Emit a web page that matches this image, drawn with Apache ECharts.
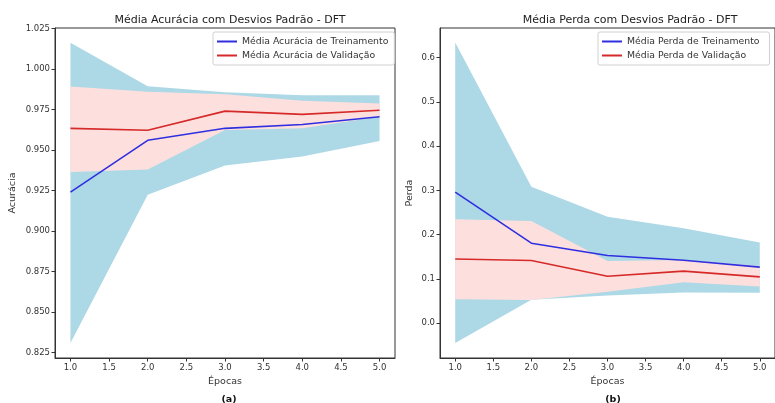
<!DOCTYPE html>
<html><head><meta charset="utf-8">
<script src="https://cdn.jsdelivr.net/npm/echarts@6/dist/echarts.min.js"></script>
<style>html,body{margin:0;padding:0;background:#fff}#c{width:775px;height:403px}</style>
</head><body><div id="c"></div>
<script>
var epochs = [1, 2, 3, 4, 5];
var xTicks = [1.0, 1.5, 2.0, 2.5, 3.0, 3.5, 4.0, 4.5, 5.0];

// Accuracy (a)
var accTrainMean = [0.9240, 0.9560, 0.9634, 0.9658, 0.9705];
var accTrainUpper = [1.0162, 0.9894, 0.9857, 0.9838, 0.9838];
var accTrainLower = [0.8310, 0.9224, 0.9404, 0.9460, 0.9556];
var accValMean = [0.9634, 0.9622, 0.9740, 0.9720, 0.9746];
var accValUpper = [0.9892, 0.9859, 0.9845, 0.9804, 0.9787];
var accValLower = [0.9364, 0.9380, 0.9623, 0.9634, 0.9705];
var accTicks = [0.825, 0.850, 0.875, 0.900, 0.925, 0.950, 0.975, 1.000, 1.025];

// Loss (b)
var lossTrainMean = [0.2960, 0.1806, 0.1526, 0.1420, 0.1264];
var lossTrainUpper = [0.6340, 0.3080, 0.2406, 0.2144, 0.1820];
var lossTrainLower = [-0.0450, 0.0526, 0.0623, 0.0690, 0.0684];
var lossValMean = [0.1450, 0.1413, 0.1060, 0.1174, 0.1045];
var lossValUpper = [0.2348, 0.2310, 0.1406, 0.1423, 0.1290];
var lossValLower = [0.0540, 0.0520, 0.0710, 0.0925, 0.0826];
var lossTicks = [0.0, 0.1, 0.2, 0.3, 0.4, 0.5, 0.6];

var FONT = 'DejaVu Sans';
var BLUE = '#2f2fe0', RED = '#d62a2a', BAND_B = '#add8e6', BAND_R = '#fde0de';

function pairs(ys) { return epochs.map(function (x, i) { return [x, ys[i]]; }); }

function band(idx, lower, upper, color) {
  return {
    type: 'custom', xAxisIndex: idx, yAxisIndex: idx, silent: true, z: 1, clip: true,
    data: epochs.map(function (x, i) { return [x, lower[i], upper[i]]; }),
    encode: { x: 0, y: [1, 2] },
    renderItem: function (params, api) {
      if (params.dataIndexInside !== 0) return null;
      var n = params.dataInsideLength, top = [], bot = [];
      for (var i = 0; i < n; i++) {
        top.push(api.coord([api.value(0, i), api.value(2, i)]));
        bot.unshift(api.coord([api.value(0, i), api.value(1, i)]));
      }
      return { type: 'polygon', shape: { points: top.concat(bot) },
        style: { fill: color, stroke: null } };
    }
  };
}
function line(idx, name, ys, color) {
  return { type: 'line', name: name, xAxisIndex: idx, yAxisIndex: idx, data: pairs(ys),
    symbol: 'none', lineStyle: { color: color, width: 1.6 }, itemStyle: { color: color }, z: 3 };
}

function xAxisCfg(idx) {
  return { type: 'value', gridIndex: idx, min: 0.8, max: 5.2,
    name: 'Épocas', nameLocation: 'middle', nameGap: 19,
    nameTextStyle: { fontFamily: FONT, fontSize: 9.5, color: '#333' },
    splitLine: { show: false },
    axisLine: { show: true, onZero: false, lineStyle: { color: '#333', width: 1 } },
    axisTick: { show: true, length: 3.5, customValues: xTicks, lineStyle: { color: '#333' } },
    axisLabel: { customValues: xTicks, fontFamily: FONT, fontSize: 8.5, color: '#333', margin: 5,
      formatter: function (v) { return v.toFixed(1); } } };
}
function yAxisCfg(idx, min, max, ticks, dec, name, gap) {
  return { type: 'value', gridIndex: idx, min: min, max: max,
    name: name, nameLocation: 'middle', nameGap: gap, nameRotate: 90,
    nameTextStyle: { fontFamily: FONT, fontSize: 9.5, color: '#333' },
    splitLine: { show: false },
    axisLine: { show: true, onZero: false, lineStyle: { color: '#333', width: 1 } },
    axisTick: { show: true, length: 3.5, customValues: ticks, lineStyle: { color: '#333' } },
    axisLabel: { customValues: ticks, fontFamily: FONT, fontSize: 8.5, color: '#333', margin: 5,
      formatter: function (v) { return v.toFixed(dec); } } };
}

var option = {
  animation: false,
  backgroundColor: '#fff',
  title: [
    { text: 'Média Acurácia com Desvios Padrão - DFT', left: 225, top: 10, textAlign: 'center',
      textStyle: { fontFamily: FONT, fontSize: 11, fontWeight: 'normal', color: '#222' } },
    { text: 'Média Perda com Desvios Padrão - DFT', left: 625, top: 10, textAlign: 'center',
      textStyle: { fontFamily: FONT, fontSize: 11, fontWeight: 'normal', color: '#222' } },
    { text: '(a)', left: 224, top: 390, textAlign: 'center',
      textStyle: { fontFamily: FONT, fontSize: 9.5, fontWeight: 'bold', color: '#111' } },
    { text: '(b)', left: 608, top: 390, textAlign: 'center',
      textStyle: { fontFamily: FONT, fontSize: 9.5, fontWeight: 'bold', color: '#111' } }
  ],
  legend: [
    { data: ['Média Acurácia de Treinamento', 'Média Acurácia de Validação'], orient: 'vertical',
      left: 213, top: 32, itemWidth: 20, itemHeight: 2, itemGap: 5, icon: 'rect',
      padding: [5, 6, 5, 4], borderColor: '#d0d0d0', borderWidth: 1, borderRadius: 2,
      backgroundColor: 'rgba(255,255,255,0.8)',
      textStyle: { fontFamily: FONT, fontSize: 9.3, color: '#333' } },
    { data: ['Média Perda de Treinamento', 'Média Perda de Validação'], orient: 'vertical',
      left: 598, top: 32, itemWidth: 20, itemHeight: 2, itemGap: 5, icon: 'rect',
      padding: [5, 10, 5, 4], borderColor: '#d0d0d0', borderWidth: 1, borderRadius: 2,
      backgroundColor: 'rgba(255,255,255,0.8)',
      textStyle: { fontFamily: FONT, fontSize: 9.3, color: '#333' } }
  ],
  grid: [
    { left: 55, top: 28, width: 340, height: 330, show: true, borderColor: '#333', borderWidth: 1, backgroundColor: 'transparent' },
    { left: 440, top: 28, width: 341, height: 330, show: true, borderColor: '#333', borderWidth: 1, backgroundColor: 'transparent' }
  ],
  xAxis: [xAxisCfg(0), xAxisCfg(1)],
  yAxis: [
    yAxisCfg(0, 0.8217, 1.0253, accTicks, 3, 'Acurácia', 37),
    yAxisCfg(1, -0.0789, 0.6669, lossTicks, 1, 'Perda', 25)
  ],
  series: [
    band(0, accTrainLower, accTrainUpper, BAND_B),
    band(0, accValLower, accValUpper, BAND_R),
    line(0, 'Média Acurácia de Treinamento', accTrainMean, BLUE),
    line(0, 'Média Acurácia de Validação', accValMean, RED),
    band(1, lossTrainLower, lossTrainUpper, BAND_B),
    band(1, lossValLower, lossValUpper, BAND_R),
    line(1, 'Média Perda de Treinamento', lossTrainMean, BLUE),
    line(1, 'Média Perda de Validação', lossValMean, RED)
  ]
};
var chart = echarts.init(document.getElementById('c'), null, { renderer: 'canvas' });
chart.setOption(option);
</script></body></html>
